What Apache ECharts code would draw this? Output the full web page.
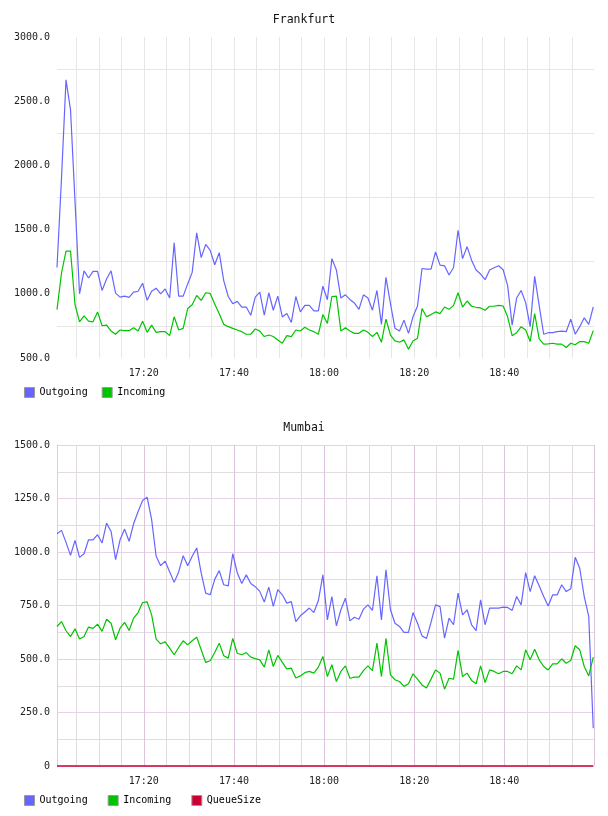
<!DOCTYPE html>
<html>
<head>
<meta charset="utf-8">
<title>Frankfurt / Mumbai</title>
<script src="https://cdn.jsdelivr.net/npm/echarts@6/dist/echarts.min.js"></script>
<style>
  html, body { margin: 0; padding: 0; background: #fff; }
  #chart { width: 608px; height: 816px; }
</style>
</head>
<body>
<div id="chart"></div>
<script>
// time of the first sample, minutes since midnight (17:00:44), one sample per minute
const startMinute = 17 * 60 + 44 / 60;
const xMax = 18 * 60 + 59.9;

const yTicksFrankfurt = [500, 3000, 500];   // min, max, step
const yTicksMumbai = [0, 1500, 250];

const frankfurtOut = [
  1205, 1900, 2666, 2433, 1720, 1000, 1179, 1123, 1174, 1174,
  1026, 1115, 1179, 1005, 974, 982, 972, 1013, 1020, 1082,
  949, 1020, 1044, 1000, 1038, 967, 1397, 982, 982, 1077,
  1167, 1474, 1282, 1385, 1338, 1226, 1320, 1103, 979, 923,
  941, 897, 897, 833, 974, 1013, 833, 1008, 872, 982,
  820, 846, 777, 979, 859, 910, 910, 867, 867, 1059,
  954, 1274, 1185, 967, 992, 956, 928, 879, 992, 967,
  872, 1026, 762, 1128, 923, 731, 710, 795, 692, 821,
  905, 1197, 1192, 1192, 1326, 1223, 1218, 1146, 1205, 1495,
  1274, 1367, 1262, 1185, 1154, 1110, 1185, 1203, 1218, 1187,
  1064, 756, 967, 1026, 931, 744, 1136, 910, 685, 697,
  697, 705, 710, 705, 803, 685, 744, 813, 762, 897
];
const frankfurtIn = [
  877, 1162, 1333, 1333, 915, 782, 828, 787, 782, 859,
  751, 756, 710, 685, 718, 713, 713, 736, 710, 787,
  700, 756, 700, 705, 705, 674, 821, 718, 731, 885,
  915, 987, 949, 1008, 1003, 921, 844, 762, 744, 731,
  718, 705, 685, 685, 726, 710, 667, 679, 667, 641,
  615, 674, 667, 718, 710, 740, 718, 705, 685, 838,
  769, 979, 982, 710, 736, 710, 692, 692, 718, 700,
  667, 700, 623, 803, 679, 633, 623, 641, 569, 633,
  654, 885, 821, 838, 859, 846, 897, 879, 910, 1008,
  897, 944, 903, 895, 890, 872, 903, 903, 910, 905,
  821, 674, 697, 744, 718, 628, 846, 649, 608, 610,
  615, 608, 608, 582, 615, 603, 628, 628, 615, 713
];
const mumbaiOut = [
  1085, 1101, 1045, 984, 1054, 975, 992, 1057, 1057, 1081,
  1042, 1135, 1096, 964, 1057, 1107, 1050, 1132, 1189, 1241,
  1256, 1151, 980, 936, 957, 908, 858, 907, 983, 936,
  980, 1019, 901, 808, 800, 872, 913, 847, 842, 992,
  903, 853, 893, 853, 838, 816, 766, 836, 746, 824,
  800, 761, 768, 675, 702, 720, 738, 717, 773, 893,
  683, 792, 655, 730, 784, 678, 695, 686, 733, 753,
  727, 889, 683, 917, 730, 667, 652, 624, 624, 717,
  667, 608, 596, 671, 753, 745, 597, 691, 660, 808,
  706, 730, 660, 633, 776, 660, 738, 738, 738, 742,
  741, 727, 792, 753, 904, 815, 889, 842, 792, 748,
  800, 800, 847, 815, 828, 975, 924, 792, 699, 177
];
const mumbaiIn = [
  652, 675, 632, 605, 641, 593, 605, 649, 643, 663,
  629, 686, 667, 590, 644, 671, 633, 691, 717, 764,
  767, 706, 593, 571, 580, 551, 520, 554, 585, 566,
  585, 602, 543, 484, 492, 530, 574, 515, 504, 596,
  527, 520, 530, 509, 502, 496, 462, 543, 465, 517,
  484, 454, 457, 411, 421, 436, 442, 434, 462, 512,
  418, 473, 395, 442, 468, 410, 415, 415, 446, 468,
  446, 574, 418, 597, 426, 403, 395, 372, 384, 431,
  406, 379, 364, 406, 449, 434, 359, 410, 406, 540,
  418, 434, 400, 384, 468, 390, 449, 442, 431, 442,
  442, 431, 468, 449, 543, 496, 546, 496, 465, 449,
  477, 477, 501, 480, 493, 562, 543, 465, 421, 509
];
const mumbaiQueue = [
  0, 0, 0, 0, 0, 0, 0, 0, 0, 0, 0, 0, 0, 0, 0, 0, 0, 0, 0, 0,
  0, 0, 0, 0, 0, 0, 0, 0, 0, 0, 0, 0, 0, 0, 0, 0, 0, 0, 0, 0,
  0, 0, 0, 0, 0, 0, 0, 0, 0, 0, 0, 0, 0, 0, 0, 0, 0, 0, 0, 0,
  0, 0, 0, 0, 0, 0, 0, 0, 0, 0, 0, 0, 0, 0, 0, 0, 0, 0, 0, 0,
  0, 0, 0, 0, 0, 0, 0, 0, 0, 0, 0, 0, 0, 0, 0, 0, 0, 0, 0, 0,
  0, 0, 0, 0, 0, 0, 0, 0, 0, 0, 0, 0, 0, 0, 0, 0, 0, 0, 0, 0
];

const FONT = "DejaVu Sans Mono";
const BLUE = "#6666ff";
const GREEN = "#00c400";
const RED = "#cc0033";

function toPoints(values) {
  return values.map((v, i) => [startMinute + i, v]);
}

function timeLabel(v) {
  const r = Math.round(v / 20) * 20;
  if (Math.abs(v - r) > 1e-6) return "";
  const h = Math.floor(r / 60);
  const m = r % 60;
  return h + ":" + (m < 10 ? "0" + m : m);
}

function yLabel(v) {
  return v === 0 ? "0" : v.toFixed(1);
}

const labelStyle = {fontFamily: FONT, fontSize: 10, color: "#222"};

function timeAxis(gridIndex, gridColor) {
  return {
    gridIndex: gridIndex,
    type: "value",
    min: startMinute,
    max: xMax,
    splitNumber: 24,
    axisLine: {show: false},
    axisTick: {show: false},
    axisLabel: Object.assign({formatter: timeLabel, margin: 10}, labelStyle),
    splitLine: {
      show: true,
      showMinLine: false,
      showMaxLine: false,
      lineStyle: {color: gridColor, width: 1}
    }
  };
}

const chart = echarts.init(document.getElementById("chart"), null, {renderer: "canvas"});

const option = {
  animation: false,
  backgroundColor: "#fff",
  title: [
    {text: "Frankfurt", left: "center", top: 14, padding: 0,
      textStyle: {fontFamily: FONT, fontSize: 11.5, fontWeight: "normal", color: "#111"}},
    {text: "Mumbai", left: "center", top: 422, padding: 0,
      textStyle: {fontFamily: FONT, fontSize: 11.5, fontWeight: "normal", color: "#111"}}
  ],
  legend: [
    {
      data: ["Outgoing", "Incoming"],
      left: 24, top: 387, padding: 0, itemGap: 14,
      icon: "rect", itemWidth: 10, itemHeight: 10,
      itemStyle: {borderColor: "#999", borderWidth: 1},
      textStyle: {fontFamily: FONT, fontSize: 10, color: "#000"}
    },
    {
      data: ["Outgoing", "Incoming", "QueueSize"],
      left: 24, top: 795, padding: 0, itemGap: 20,
      icon: "rect", itemWidth: 10, itemHeight: 10,
      itemStyle: {borderColor: "#999", borderWidth: 1},
      textStyle: {fontFamily: FONT, fontSize: 10, color: "#000"}
    }
  ],
  grid: [
    {left: 57, right: 14, top: 37, height: 321},
    {left: 57, right: 14, top: 445, height: 321}
  ],
  xAxis: [
    timeAxis(0, "#e6e6e6"),
    timeAxis(1, "#e0dce0"),
    {
      // 20 minute marks drawn in pink on the Mumbai grid
      gridIndex: 1,
      type: "value",
      min: startMinute,
      max: xMax,
      splitNumber: 6,
      axisLine: {show: false},
      axisTick: {show: false},
      axisLabel: {show: false},
      splitLine: {show: true, lineStyle: {color: "#dcc4dc", width: 1}}
    }
  ],
  yAxis: [
    {
      gridIndex: 0,
      type: "value",
      min: yTicksFrankfurt[0],
      max: yTicksFrankfurt[1],
      interval: yTicksFrankfurt[2],
      axisLine: {show: false},
      axisTick: {show: false},
      axisLabel: Object.assign({formatter: yLabel, margin: 7}, labelStyle),
      splitLine: {show: false},
      minorTick: {show: false, splitNumber: 2},
      minorSplitLine: {show: true, lineStyle: {color: "#e6e6e6", width: 1}}
    },
    {
      gridIndex: 1,
      type: "value",
      min: yTicksMumbai[0],
      max: yTicksMumbai[1],
      interval: yTicksMumbai[2],
      axisLine: {show: true, lineStyle: {color: "#e2c8e2", width: 1}},
      axisTick: {show: false},
      axisLabel: Object.assign({formatter: yLabel, margin: 7}, labelStyle),
      splitLine: {show: true, lineStyle: {color: "#e8d0e8", width: 1}},
      minorTick: {show: false, splitNumber: 2},
      minorSplitLine: {show: true, lineStyle: {color: "#e0dce0", width: 1}}
    }
  ],
  series: [
    {name: "Outgoing", type: "line", xAxisIndex: 0, yAxisIndex: 0, data: toPoints(frankfurtOut),
      showSymbol: false, color: BLUE, lineStyle: {width: 1.2}},
    {name: "Incoming", type: "line", xAxisIndex: 0, yAxisIndex: 0, data: toPoints(frankfurtIn),
      showSymbol: false, color: GREEN, lineStyle: {width: 1.2}},
    {name: "Outgoing", type: "line", xAxisIndex: 1, yAxisIndex: 1, data: toPoints(mumbaiOut),
      showSymbol: false, color: BLUE, lineStyle: {width: 1.2}},
    {name: "Incoming", type: "line", xAxisIndex: 1, yAxisIndex: 1, data: toPoints(mumbaiIn),
      showSymbol: false, color: GREEN, lineStyle: {width: 1.2}},
    {name: "QueueSize", type: "line", xAxisIndex: 1, yAxisIndex: 1, data: toPoints(mumbaiQueue),
      showSymbol: false, clip: false, color: RED, lineStyle: {width: 1.5}}
  ]
};

option && chart.setOption(option);
</script>
</body>
</html>
